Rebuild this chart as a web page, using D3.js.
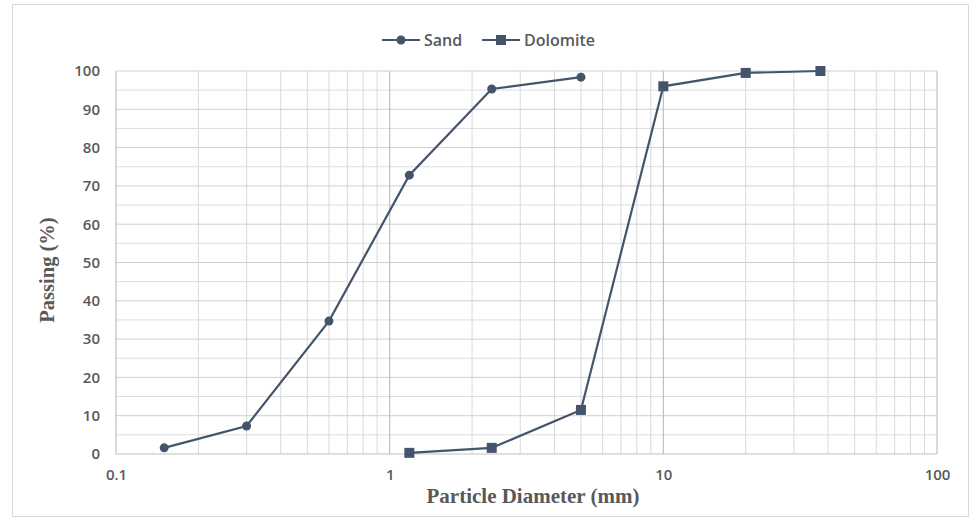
<!DOCTYPE html>
<html>
<head>
<meta charset="utf-8">
<script src="https://cdn.jsdelivr.net/npm/d3@7"></script>
<style>
  body { margin: 0; background: #fff; }
  text { fill: #595959; }
</style>
</head>
<body>
<svg width="978" height="527"></svg>
<script>
// sieve sizes (mm) and percent passing
const sandSize = [0.15, 0.3, 0.6, 1.18, 2.36, 5]
const sandPass = [1.6, 7.3, 34.7, 72.8, 95.3, 98.4]
const doloSize = [1.18, 2.36, 5, 10, 20, 37.5]
const doloPass = [0.3, 1.6, 11.5, 96, 99.5, 100]
const xTicks = [0.1, 1, 10, 100]
const yTicks = [0, 10, 20, 30, 40, 50, 60, 70, 80, 90, 100]

const lineColor = "#44546a"
const svg = d3.select("svg")

svg.append("rect")
    .attr("x", 12.5).attr("y", 4.5)
    .attr("width", 956).attr("height", 512)
    .attr("fill", "none").attr("stroke", "#d9d9d9")

const pLeft = 116, pRight = 937, pTop = 71, pBottom = 454

const x = d3.scaleLog().domain([0.1, 100]).range([pLeft, pRight])
const y = d3.scaleLinear().domain([0, 100]).range([pBottom, pTop])

const grid = svg.append("g")

// minor vertical lines (2..9 in each decade)
let minorX = []
for (let p = -1; p < 2; p++) {
    for (let m = 2; m <= 9; m++) minorX.push(m * Math.pow(10, p))
}
grid.selectAll(".vminor").data(minorX).enter().append("line")
    .attr("x1", (d) => x(d)).attr("x2", (d) => x(d))
    .attr("y1", pTop).attr("y2", pBottom)
    .attr("stroke", "#d9d9d9").attr("stroke-width", 1)

// horizontal lines every 5
let hLines = d3.range(5, 100, 5)
grid.selectAll(".h").data(hLines).enter().append("line")
    .attr("x1", pLeft).attr("x2", pRight)
    .attr("y1", (d) => y(d)).attr("y2", (d) => y(d))
    .attr("stroke", (d) => d % 10 == 0 ? "#cfcfcf" : "#dedede")
    .attr("stroke-width", 1)

// decade lines
grid.selectAll(".vmajor").data(xTicks).enter().append("line")
    .attr("x1", (d) => x(d)).attr("x2", (d) => x(d))
    .attr("y1", pTop).attr("y2", pBottom)
    .attr("stroke", "#bfbfbf").attr("stroke-width", 1.2)

grid.append("line")
    .attr("x1", pLeft).attr("x2", pRight)
    .attr("y1", pTop).attr("y2", pTop)
    .attr("stroke", "#cfcfcf")
grid.append("line")
    .attr("x1", pLeft).attr("x2", pRight)
    .attr("y1", pBottom).attr("y2", pBottom)
    .attr("stroke", "#bfbfbf").attr("stroke-width", 1.2)

// axes labels
const yAxis = d3.axisLeft(y).tickValues(yTicks).tickSize(0).tickPadding(16)
svg.append("g").attr("transform", `translate(${pLeft},0)`).call(yAxis)
    .call((g) => g.select(".domain").remove())
    .selectAll("text")
    .attr("font-family", "Open Sans, sans-serif")
    .attr("font-size", 15).attr("font-weight", 600)
    .style("fill", "#595959")

const xAxis = d3.axisBottom(x).tickValues(xTicks).tickFormat((d) => d).tickSize(0).tickPadding(15)
svg.append("g").attr("transform", `translate(0,${pBottom})`).call(xAxis)
    .call((g) => g.select(".domain").remove())
    .selectAll("text")
    .attr("font-family", "Open Sans, sans-serif")
    .attr("font-size", 15).attr("font-weight", 600)
    .style("fill", "#595959")

svg.append("text")
    .attr("x", 533).attr("y", 503)
    .attr("text-anchor", "middle")
    .attr("font-family", "Liberation Serif, serif")
    .attr("font-weight", "bold").attr("font-size", 21)
    .text("Particle Diameter (mm)")

svg.append("text")
    .attr("transform", `translate(54,270) rotate(-90)`)
    .attr("text-anchor", "middle")
    .attr("font-family", "Liberation Serif, serif")
    .attr("font-weight", "bold").attr("font-size", 20.5)
    .text("Passing (%)")

// series
let line = d3.line()
    .x((d) => x(d[0]))
    .y((d) => y(d[1]))

const sand = d3.zip(sandSize, sandPass)
const dolo = d3.zip(doloSize, doloPass)

svg.append("path").datum(sand).attr("d", line)
    .attr("fill", "none").attr("stroke", lineColor).attr("stroke-width", 2.2)
svg.selectAll(".sandPt").data(sand).enter().append("circle")
    .attr("cx", (d) => x(d[0])).attr("cy", (d) => y(d[1]))
    .attr("r", 4.5).attr("fill", lineColor)

svg.append("path").datum(dolo).attr("d", line)
    .attr("fill", "none").attr("stroke", lineColor).attr("stroke-width", 2.2)
svg.selectAll(".doloPt").data(dolo).enter().append("rect")
    .attr("x", (d) => x(d[0]) - 5).attr("y", (d) => y(d[1]) - 5)
    .attr("width", 10).attr("height", 10).attr("fill", lineColor)

// legend
const legend = svg.append("g").attr("transform", "translate(0,40)")
legend.append("line").attr("x1", 382).attr("x2", 420).attr("y1", 0).attr("y2", 0)
    .attr("stroke", lineColor).attr("stroke-width", 2.2)
legend.append("circle").attr("cx", 401).attr("cy", 0).attr("r", 4.5).attr("fill", lineColor)
legend.append("text").attr("x", 424).attr("y", 6)
    .attr("font-family", "Open Sans, sans-serif").attr("font-weight", 600).attr("font-size", 16)
    .text("Sand")
legend.append("line").attr("x1", 482).attr("x2", 520).attr("y1", 0).attr("y2", 0)
    .attr("stroke", lineColor).attr("stroke-width", 2.2)
legend.append("rect").attr("x", 496).attr("y", -5).attr("width", 10).attr("height", 10).attr("fill", lineColor)
legend.append("text").attr("x", 524).attr("y", 6)
    .attr("font-family", "Open Sans, sans-serif").attr("font-weight", 600).attr("font-size", 16)
    .text("Dolomite")
</script>
</body>
</html>
